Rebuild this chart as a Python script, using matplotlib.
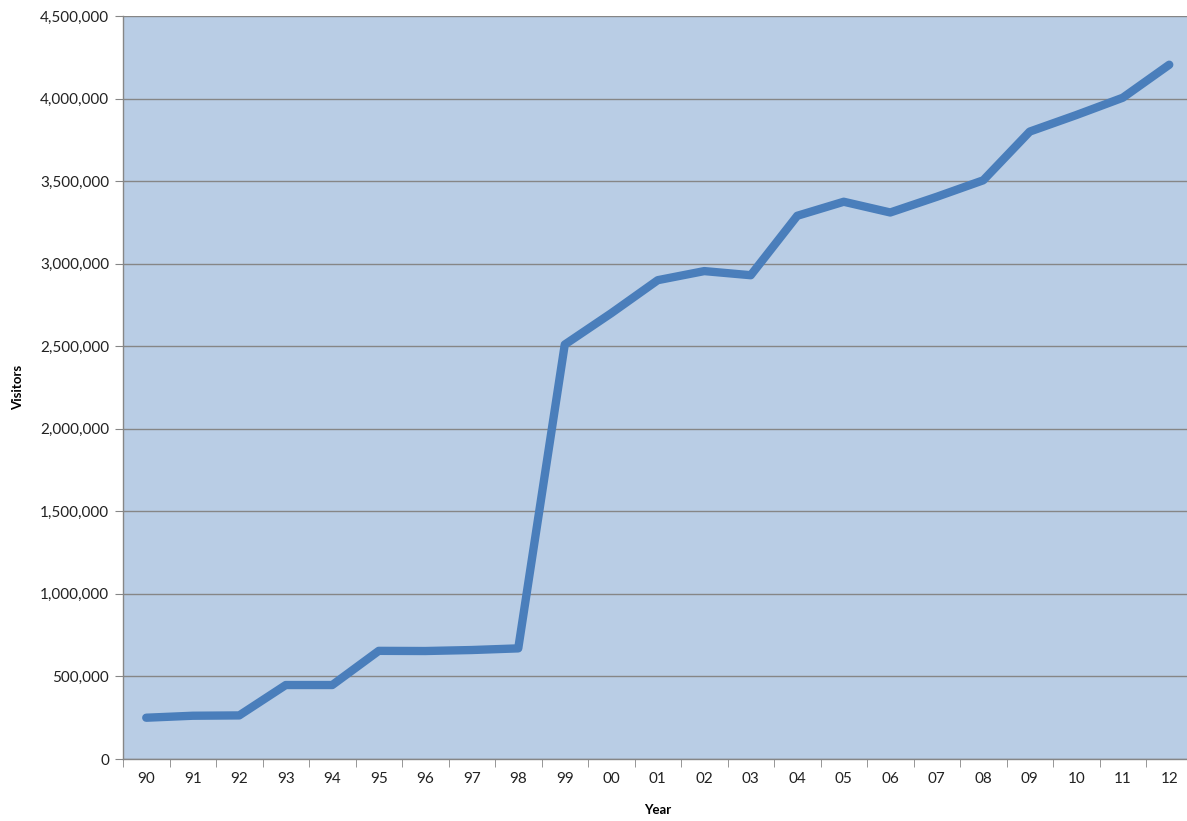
import matplotlib
matplotlib.use('Agg')
import matplotlib.pyplot as plt
from matplotlib.ticker import FuncFormatter, FixedLocator

# data
years = ['90', '91', '92', '93', '94', '95', '96', '97', '98', '99', '00', '01',
         '02', '03', '04', '05', '06', '07', '08', '09', '10', '11', '12']
visitors = [250000, 262000, 264000, 448000, 448000, 655000, 654000, 660000, 670000,
            2510000, 2700000, 2900000, 2955000, 2930000, 3290000, 3375000, 3310000,
            3405000, 3505000, 3800000, 3900000, 4005000, 4205000]
y_ticks = [0, 500000, 1000000, 1500000, 2000000, 2500000, 3000000, 3500000, 4000000, 4500000]

plt.rcParams['font.family'] = ['Lato', 'DejaVu Sans']

fig = plt.figure(figsize=(11.87, 8.21), dpi=100)
ax = fig.add_axes([123 / 1187, 62 / 821, (1192.5 - 123) / 1187, 743 / 821])
ax.set_facecolor('#b9cde5')

x = list(range(len(years)))
ax.plot(x, visitors, color='#4a7ebb', linewidth=6, solid_joinstyle='round',
        solid_capstyle='round', zorder=3)

ax.set_xlim(-0.5, len(years) - 0.5)
ax.set_ylim(0, 4500000)
ax.set_yticks(y_ticks)
ax.yaxis.set_major_formatter(FuncFormatter(lambda v, p: f'{int(v):,}'))
ax.set_xticks(x)
ax.set_xticklabels(years)
ax.xaxis.set_minor_locator(FixedLocator([i - 0.5 for i in range(len(years) + 1)]))

ax.grid(axis='y', color='#868686', linewidth=1.0, zorder=1)
ax.set_axisbelow(True)

for s in ['top', 'right']:
    ax.spines[s].set_visible(False)
for s in ['left', 'bottom']:
    ax.spines[s].set_color('#868686')
    ax.spines[s].set_linewidth(1.0)

ax.tick_params(axis='y', length=6, color='#868686', labelsize=11, labelcolor='#222222', pad=4)
ax.tick_params(axis='x', which='major', length=0, labelsize=11, labelcolor='#222222', pad=9)
ax.tick_params(axis='x', which='minor', length=6, color='#868686')

ax.set_ylabel('Visitors', fontsize=9.5, fontweight='bold')
ax.set_xlabel('Year', fontsize=9.5, fontweight='bold')
ax.yaxis.set_label_coords((18 - 123) / 1069.5, (759 - 387) / 743)
ax.xaxis.set_label_coords((658 - 123) / 1069.5, (759 - 810) / 743)
ax.xaxis.label.set_va('center')
ax.yaxis.label.set_va('center')

fig.savefig('out.png', dpi=100)
